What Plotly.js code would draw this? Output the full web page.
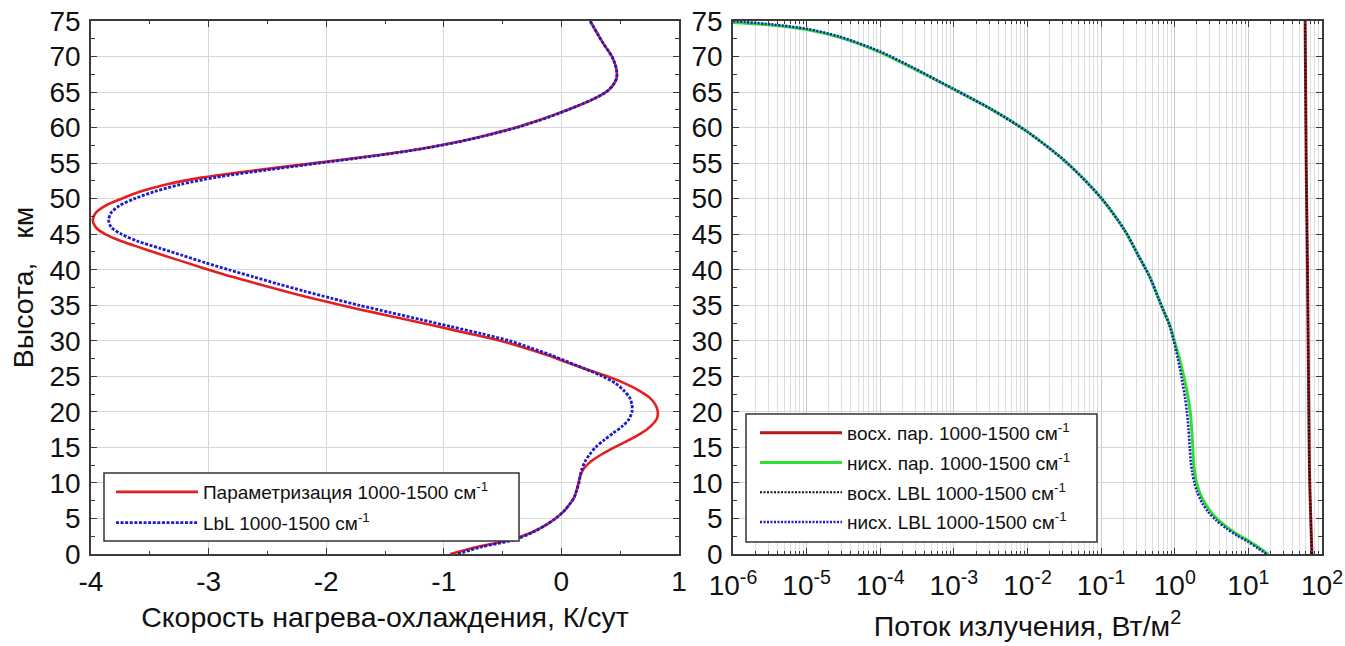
<!DOCTYPE html>
<html>
<head>
<meta charset="utf-8">
<script src="https://cdn.plot.ly/plotly-3.0.1.min.js"></script>
<style>html,body{margin:0;padding:0;background:#fff;}#chart{width:1345px;height:646px;}</style>
</head>
<body>
<div id="chart"></div>
<script>
// ---- Left panel: heating/cooling rate (K/day) vs altitude (km)
const altRate = [0,1,2,3,4,5,6,7,8,9,10,11,12,13,14,15,16,17,18,19,20,21,22,23,24,25,26,27,28,29,30,31,32,33,34,35,36,37,38,39,40,41,42,43,44,45,46,47,48,49,50,51,52,53,54,55,56,57,58,59,60,61,62,63,64,65,66,67,68,69,70,72,75];
const rateParam = [-0.945,-0.72,-0.43,-0.26,-0.14,-0.05,0.02,0.07,0.11,0.13,0.145,0.16,0.19,0.25,0.34,0.45,0.57,0.68,0.76,0.81,0.82,0.80,0.75,0.66,0.54,0.39,0.21,0.04,-0.12,-0.31,-0.52,-0.78,-1.05,-1.32,-1.6,-1.87,-2.12,-2.36,-2.58,-2.8,-3.0,-3.19,-3.38,-3.56,-3.74,-3.88,-3.96,-3.985,-3.96,-3.88,-3.74,-3.58,-3.36,-3.05,-2.6,-2.1,-1.62,-1.2,-0.88,-0.62,-0.39,-0.2,-0.03,0.13,0.27,0.38,0.44,0.47,0.47,0.455,0.43,0.35,0.245];
const rateLbl   = [-0.88,-0.68,-0.40,-0.25,-0.14,-0.05,0.02,0.07,0.11,0.13,0.15,0.16,0.175,0.20,0.24,0.29,0.36,0.44,0.52,0.575,0.60,0.60,0.58,0.53,0.46,0.35,0.21,0.06,-0.09,-0.26,-0.44,-0.68,-0.94,-1.2,-1.46,-1.72,-1.96,-2.19,-2.41,-2.62,-2.83,-3.03,-3.22,-3.41,-3.6,-3.74,-3.83,-3.85,-3.83,-3.76,-3.63,-3.46,-3.24,-2.94,-2.52,-2.06,-1.6,-1.19,-0.87,-0.61,-0.38,-0.19,-0.02,0.13,0.27,0.38,0.44,0.47,0.47,0.455,0.43,0.35,0.245];
const rateTicks = [-4,-3,-2,-1,0,1];
const rateTickText = ['-4','-3','-2','-1','0','1'];

// ---- Right panel: radiative flux (W/m2) vs altitude (km)
const altDownLbl = [75,74.5,73.9,72.8,70.7,68.6,65.4,62.6,59.4,55.2,50.1,45.5,42,39,36,34,32.3,30,27.5,24.8,22,20.1,17.5,14.9,13,11.6,10,8.8,7.2,6,4.8,3.6,2.6,1.7,0.8,0];
const fluxDownLbl = [1.0e-6,3.5e-6,1.0e-5,2.8e-5,1.0e-4,2.6e-4,1.0e-3,3.2e-3,1.0e-2,3.3e-2,0.1,0.21,0.32,0.457,0.6,0.72,0.84,0.97,1.1,1.24,1.38,1.46,1.54,1.6,1.65,1.72,1.85,2.0,2.35,2.8,3.6,5.0,7.0,10.0,13.5,17.5];
const altDownPar = [74.8,74.4,73.8,72.7,70.6,68.5,65.4,62.6,59.4,55.2,50.1,45.5,42,39,36,34,32.3,30,27.5,24.8,22,20.1,17.5,14.9,13,11.6,10,8.8,7.2,6,4.8,3.6,2.6,1.7,0.8,0];
const fluxDownPar = [1.0e-6,3.5e-6,1.0e-5,2.8e-5,1.0e-4,2.6e-4,1.0e-3,3.2e-3,1.0e-2,3.3e-2,0.1,0.21,0.32,0.457,0.6,0.72,0.85,0.99,1.16,1.34,1.52,1.62,1.7,1.76,1.8,1.86,1.98,2.15,2.55,3.05,3.9,5.4,7.5,10.7,14.3,18.5];
const altUp = [0,12,25,40,55,75];
const fluxUpPar = [73,67.5,65.5,63.5,61,59];
const fluxUpLbl = [73,67.5,65.5,63.5,61,59];

const decadeVals = [1e-6,1e-5,1e-4,1e-3,1e-2,1e-1,1e0,1e1,1e2];
const decadeText = ['10<sup>-6</sup>','10<sup>-5</sup>','10<sup>-4</sup>','10<sup>-3</sup>','10<sup>-2</sup>','10<sup>-1</sup>','10<sup>0</sup>','10<sup>1</sup>','10<sup>2</sup>'];

const FONT = 'Liberation Sans, Arial, sans-serif';
const AX = '#3a3a3a', GRID = '#d6d6d6';
const TICKSIZE = 28, TITLESIZE = 28.5, LEGSIZE = 19;

const traces = [
  {x: rateParam, y: altRate, xaxis:'x', yaxis:'y', mode:'lines', name:'Параметризация 1000-1500 см<sup>-1</sup>',
   line:{color:'#e41f1f', width:2.6, shape:'spline', smoothing:0.8}, legend:'legend', legendgroup:'a'},
  {x: rateLbl, y: altRate, xaxis:'x', yaxis:'y', mode:'lines', name:'LbL 1000-1500 см<sup>-1</sup>',
   line:{color:'#1c1ccf', width:2.8, dash:'3px,1.6px', shape:'spline', smoothing:0.8}, legend:'legend', legendgroup:'b'},
  {x: fluxUpPar, y: altUp, xaxis:'x2', yaxis:'y2', mode:'lines', name:'восх. пар. 1000-1500 см<sup>-1</sup>',
   line:{color:'#b01a1a', width:3, shape:'spline'}, legend:'legend2', legendgroup:'c'},
  {x: fluxDownPar, y: altDownPar, xaxis:'x2', yaxis:'y2', mode:'lines', name:'нисх. пар. 1000-1500 см<sup>-1</sup>',
   line:{color:'#2fe02f', width:3, shape:'spline', smoothing:0.8}, legend:'legend2', legendgroup:'d'},
  {x: fluxUpLbl, y: altUp, xaxis:'x2', yaxis:'y2', mode:'lines', name:'восх. LBL 1000-1500 см<sup>-1</sup>',
   line:{color:'#111111', width:2, dash:'2px,1.5px', shape:'spline'}, legend:'legend2', legendgroup:'e'},
  {x: fluxDownLbl, y: altDownLbl, xaxis:'x2', yaxis:'y2', mode:'lines', name:'нисх. LBL 1000-1500 см<sup>-1</sup>',
   line:{color:'#1c1ccf', width:2.6, dash:'2px,1.5px', shape:'spline', smoothing:0.8}, legend:'legend2', legendgroup:'f'}
];

const yCommon = {
  range:[0,75], dtick:5, tick0:0, ticks:'inside', ticklen:6, tickwidth:1.2, tickcolor:AX,
  mirror:'ticks', showline:true, linecolor:AX, linewidth:1.5, showgrid:true, gridcolor:GRID, gridwidth:1,
  zeroline:false, tickfont:{family:FONT, size:TICKSIZE, color:'#111'}, ticklabelstandoff:3,
  minor:{dtick:2.5, ticks:'inside', ticklen:4, tickcolor:AX, showgrid:false}
};

const legCommon = {xanchor:'left', yanchor:'top', bgcolor:'rgba(0,0,0,0)', borderwidth:0,
  font:{family:FONT, size:LEGSIZE, color:'#111'}, itemwidth:82, traceorder:'grouped'};

// legend frames (white boxes with dark border), in plot-area fractions
const boxStyle = {type:'rect', xref:'paper', yref:'paper', layer:'above', fillcolor:'#ffffff', line:{color:'#333', width:1.5}};

const layout = {
  width:1345, height:646,
  margin:{l:91, r:23, t:21, b:92},
  paper_bgcolor:'#fff', plot_bgcolor:'#fff',
  font:{family:FONT, color:'#111'},
  showlegend:true,
  xaxis:{domain:[0,0.47766], range:[-4,1], tickmode:'array', tickvals:rateTicks, ticktext:rateTickText,
    ticks:'inside', ticklen:6, tickwidth:1.2, tickcolor:AX,
    mirror:'ticks', showline:true, linecolor:AX, linewidth:1.5, showgrid:true, gridcolor:GRID, zeroline:false,
    tickfont:{family:FONT, size:TICKSIZE, color:'#111'}, ticklabelstandoff:2,
    minor:{tickmode:'linear', dtick:0.5, tick0:0, ticks:'inside', ticklen:3, tickcolor:AX, showgrid:false},
    title:{text:'Скорость нагрева-охлаждения, К/сут', font:{family:FONT, size:TITLESIZE, color:'#111'}, standoff:11}},
  yaxis:Object.assign({}, yCommon, {anchor:'x',
    title:{text:'Высота,   км', font:{family:FONT, size:TITLESIZE, color:'#111'}, standoff:8}}),
  xaxis2:{domain:[0.52153,1], anchor:'y2', type:'log', range:[-6,2], tickmode:'array', tickvals:decadeVals, ticktext:decadeText,
    ticks:'inside', ticklen:6, tickwidth:1.2, tickcolor:AX,
    mirror:'ticks', showline:true, linecolor:AX, linewidth:1.5, showgrid:true, gridcolor:'#cacaca', zeroline:false,
    tickfont:{family:FONT, size:TICKSIZE, color:'#111'}, ticklabelstandoff:6,
    minor:{dtick:'D1', ticks:'inside', ticklen:3, tickcolor:AX, showgrid:true, gridcolor:'#dedede', gridwidth:1},
    title:{text:'Поток излучения, Вт/м<sup>2</sup>', font:{family:FONT, size:TITLESIZE, color:'#111'}, standoff:16}},
  yaxis2:Object.assign({}, yCommon, {anchor:'x2'}),
  legend:Object.assign({x:0.0162, y:0.152, tracegroupgap:3}, legCommon),
  legend2:Object.assign({x:0.5394, y:0.2627, tracegroupgap:2}, legCommon),
  shapes:[
    Object.assign({x0:0.01056, x1:0.34769, y0:0.02439, y1:0.15197}, boxStyle),
    Object.assign({x0:0.5321, x1:0.81722, y0:0.02251, y1:0.26266}, boxStyle)
  ]
};

Plotly.newPlot('chart', traces, layout, {displayModeBar:false, responsive:false});
</script>
</body>
</html>
